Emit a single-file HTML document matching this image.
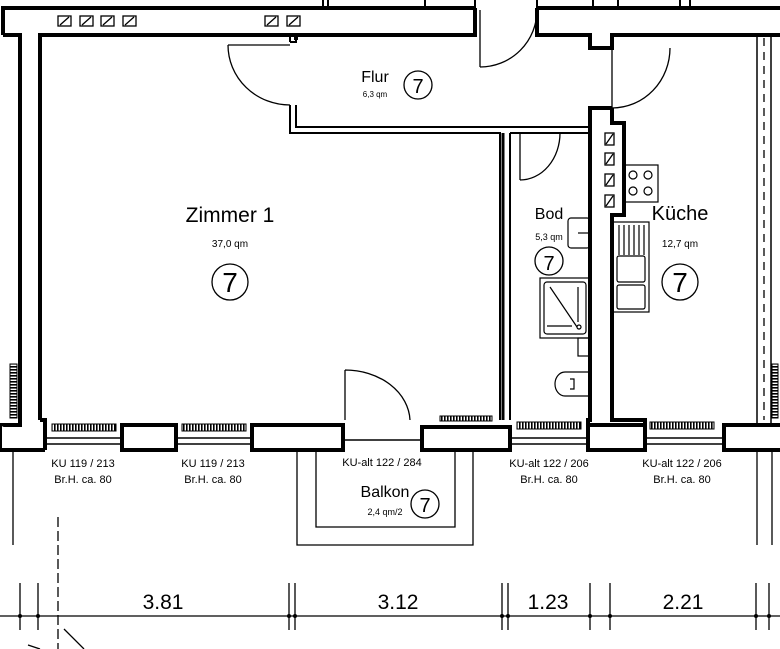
<!DOCTYPE html>
<html><head><meta charset="utf-8"><style>
html,body{margin:0;padding:0;background:#fff;width:780px;height:649px;overflow:hidden}
svg{display:block}
text{font-family:"Liberation Sans Narrow","Liberation Sans",sans-serif;fill:#000}
</style></head><body>
<svg width="780" height="649" viewBox="0 0 780 649" xmlns="http://www.w3.org/2000/svg">
<defs>
<g id="v"><rect x="0" y="0" width="13" height="10" fill="#fff" stroke="#000" stroke-width="1.3"/><line x1="2" y1="9" x2="11" y2="1" stroke="#000" stroke-width="1.3"/></g>
<pattern id="g" width="3" height="6" patternUnits="userSpaceOnUse"><rect width="1.6" height="6" fill="#000"/></pattern>
<pattern id="gv" width="6" height="3" patternUnits="userSpaceOnUse"><rect width="6" height="1.6" fill="#000"/></pattern>
</defs>
<g fill="none" stroke="#000" stroke-width="4" stroke-linejoin="miter">
<path d="M3,35 L3,8 L475,8 M3,35 L20,35 L20,425 L0,425"/>
<path d="M40,420 L40,35 L290,35 M290,35 L296,35 L296,40 M296,35 L475,35 L475,8"/>
<path d="M40,420 L45,420 L45,450"/>
<path d="M537,8 L537,35 L590,35 L590,48 L612,48 L612,35 L780,35 M537,8 L780,8"/>
<path d="M612,108 L590,108 L590,420 L588,420 L588,450"/>
<path d="M612,108 L612,123 L624,123 L624,215 L612,215 L612,420 L645,420 L645,450"/>
</g>
<g fill="none" stroke="#000" stroke-width="2">
<path d="M290,42 L296,42 L296,35 M290,35 L290,42"/>
<path d="M290,105 L290,133 L500,133 L500,420 M296,105 L296,127 L590,127 M510,133 L510,420"/>
<path d="M510,133 L590,133"/>
</g>
<path d="M503,133 L503,420" stroke="#000" stroke-width="3"/>
<g fill="none" stroke="#000" stroke-width="1.3">
<path d="M228,45 L290,45 M228,45 A62,60 0 0 0 290,105"/>
<path d="M480,10 L480,67 M480,67 A57,57 0 0 0 537,10"/>
<path d="M612,48 L612,108 M612,108 A58,60 0 0 0 670,48"/>
<path d="M520,133 L520,180 M520,180 A40,47 0 0 0 560,133"/>
<path d="M345,370 L345,420 M345,370 A65,52 0 0 1 410,420"/>
</g>
<g stroke="#000" fill="none">
<path d="M757,35 L757,423 M771,35 L771,423" stroke-width="1.5"/>
<path d="M764,38 L764,420" stroke-width="1.3" stroke-dasharray="8,6"/>
</g>
<g fill="#fff" stroke="#000" stroke-width="4">
<path d="M0,425 L0,450 L45,450"/>
<rect x="122" y="425" width="54" height="25"/>
<rect x="252" y="425" width="91" height="25"/>
<rect x="422" y="427" width="88" height="23"/>
<rect x="588" y="425" width="57" height="25"/>
<path d="M780,425 L724,425 L724,450 L780,450"/>
</g>
<g fill="none" stroke="#000" stroke-width="1.5">
<path d="M45,438 L122,438 M45,444 L122,444 M176,438 L252,438 M176,444 L252,444 M510,438 L588,438 M510,444 L588,444 M645,438 L724,438 M645,444 L724,444"/>
<path d="M343,440 L422,440"/>
</g>
<g stroke="#000" stroke-width="1">
<rect x="52" y="424" width="64" height="7" fill="url(#g)"/>
<rect x="182" y="424" width="64" height="7" fill="url(#g)"/>
<rect x="440" y="416" width="52" height="5" fill="url(#g)"/>
<rect x="517" y="422" width="64" height="7" fill="url(#g)"/>
<rect x="650" y="422" width="64" height="7" fill="url(#g)"/>
<rect x="10" y="364" width="7" height="54" fill="url(#gv)"/>
<rect x="772" y="364" width="6" height="54" fill="url(#gv)"/>
</g>
<use href="#v" x="58" y="16"/><use href="#v" x="80" y="16"/><use href="#v" x="101" y="16"/><use href="#v" x="123" y="16"/>
<use href="#v" x="265" y="16"/><use href="#v" x="287" y="16"/>
<g fill="#fff" stroke="#000" stroke-width="1.3">
<rect x="605" y="133" width="9" height="12"/><line x1="606" y1="144" x2="613" y2="134"/>
<rect x="605" y="153" width="9" height="12"/><line x1="606" y1="164" x2="613" y2="154"/>
<rect x="605" y="174" width="9" height="12"/><line x1="606" y1="185" x2="613" y2="175"/>
<rect x="605" y="195" width="9" height="12"/><line x1="606" y1="206" x2="613" y2="196"/>
</g>
<g fill="none" stroke="#000" stroke-width="1.2">
<rect x="625" y="165" width="33" height="37"/>
<circle cx="633" cy="175" r="4"/><circle cx="648" cy="175" r="4"/><circle cx="633" cy="191" r="4"/><circle cx="648" cy="191" r="4"/>
<rect x="613" y="222" width="36" height="90"/>
<path d="M619,225 L619,255 M624,225 L624,255 M629,225 L629,255 M634,225 L634,255 M639,225 L639,255 M644,225 L644,255"/>
<rect x="617" y="256" width="28" height="26" rx="2"/><rect x="617" y="285" width="28" height="24" rx="2"/>
<rect x="540" y="278" width="50" height="60"/>
<rect x="544" y="282" width="42" height="52" rx="3"/>
<line x1="550" y1="287" x2="577" y2="327"/><line x1="578" y1="287" x2="578" y2="322"/><line x1="547" y1="326" x2="572" y2="326"/>
<circle cx="579" cy="327" r="2"/>
<rect x="578" y="338" width="12" height="18"/>
<rect x="568" y="218" width="22" height="30" rx="3"/><line x1="578" y1="233" x2="590" y2="233"/>
<path d="M590,372 L565,372 A10,12 0 0 0 565,396 L590,396"/><path d="M570,379 L574,379 L574,389 L570,389"/>
</g>
<g fill="none" stroke="#000" stroke-width="1.3">
<path d="M297,450 L297,545 L473,545 L473,450"/>
<path d="M316,450 L316,527 L455,527 L455,450"/>
<path d="M13,452 L13,545 M757,452 L757,545 M772,452 L772,545"/>
</g>
<g stroke="#000" fill="none" stroke-width="1.3">
<line x1="0" y1="616" x2="780" y2="616"/>
<path d="M20,583 L20,630 M38,583 L38,630 M289,583 L289,630 M295,583 L295,630 M502,583 L502,630 M508,583 L508,630 M590,583 L590,630 M610,583 L610,630 M756,583 L756,630 M769,583 L769,630"/>
<path d="M58,517 L58,649" stroke-dasharray="10,4"/>
<path d="M64,629 L84,649"/><path d="M28,645 L40,649"/>
</g>
<g fill="#000"><circle cx="20" cy="616" r="2"/><circle cx="38" cy="616" r="2"/><circle cx="289" cy="616" r="2"/><circle cx="295" cy="616" r="2"/><circle cx="502" cy="616" r="2"/><circle cx="508" cy="616" r="2"/><circle cx="590" cy="616" r="2"/><circle cx="610" cy="616" r="2"/><circle cx="756" cy="616" r="2"/><circle cx="769" cy="616" r="2"/></g>
<g font-size="21" text-anchor="middle">
<text x="163" y="609">3.81</text><text x="398" y="609">3.12</text><text x="548" y="609">1.23</text><text x="683" y="609">2.21</text>
</g>
<g text-anchor="middle">
<text x="230" y="222" font-size="21">Zimmer 1</text>
<text x="230" y="247" font-size="10">37,0 qm</text>
<text x="375" y="82" font-size="16">Flur</text>
<text x="375" y="97" font-size="8">6,3 qm</text>
<text x="549" y="219" font-size="16">Bod</text>
<text x="549" y="240" font-size="9">5,3 qm</text>
<text x="680" y="220" font-size="20">Küche</text>
<text x="680" y="247" font-size="10">12,7 qm</text>
<text x="385" y="497" font-size="16">Balkon</text>
<text x="385" y="515" font-size="9">2,4 qm/2</text>
<g font-size="11">
<text x="83" y="467">KU 119 / 213</text><text x="83" y="483">Br.H. ca. 80</text>
<text x="213" y="467">KU 119 / 213</text><text x="213" y="483">Br.H. ca. 80</text>
<text x="382" y="466">KU-alt 122 / 284</text>
<text x="549" y="467">KU-alt 122 / 206</text><text x="549" y="483">Br.H. ca. 80</text>
<text x="682" y="467">KU-alt 122 / 206</text><text x="682" y="483">Br.H. ca. 80</text>
</g>
</g>
<g fill="none" stroke="#000" stroke-width="1.3">
<circle cx="418" cy="85" r="14"/><circle cx="230" cy="282" r="18"/><circle cx="549" cy="261" r="14"/><circle cx="680" cy="282" r="18"/><circle cx="425" cy="504" r="14"/>
</g>
<g text-anchor="middle">
<text x="418" y="93" font-size="20">7</text><text x="230" y="292" font-size="28">7</text><text x="549" y="270" font-size="20">7</text><text x="680" y="292" font-size="28">7</text><text x="425" y="512" font-size="20">7</text>
</g>
<g fill="none" stroke="#000" stroke-width="2">
<path d="M323,0 L323,8 M328,0 L328,8 M425,0 L425,8 M475,0 L475,8 M537,0 L537,8 M593,0 L593,8 M618,0 L618,8 M680,0 L680,8 M690,0 L690,8"/>
</g>
</svg>
</body></html>
